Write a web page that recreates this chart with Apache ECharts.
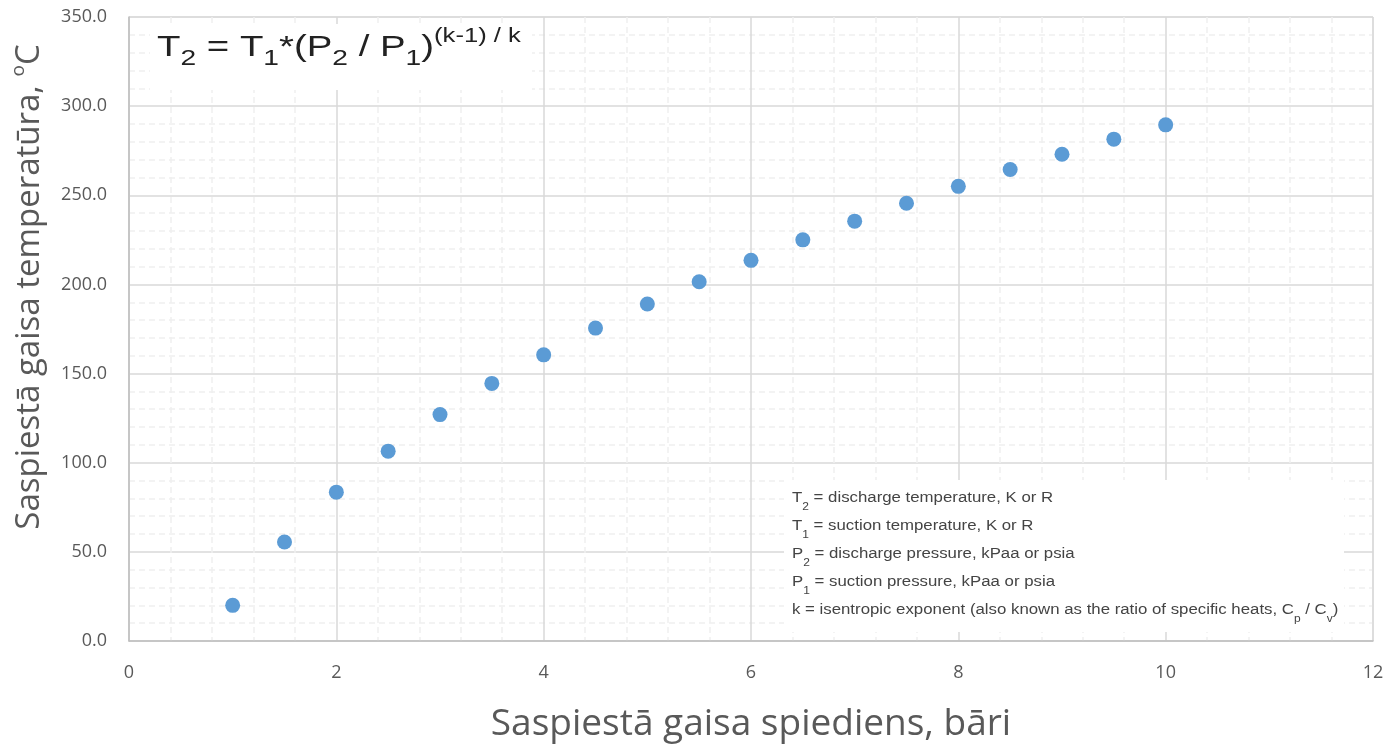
<!DOCTYPE html>
<html><head><meta charset="utf-8">
<script src="https://cdn.jsdelivr.net/npm/echarts@6/dist/echarts.min.js"></script>
<style>html,body{margin:0;padding:0;background:#fff}#c{width:1384px;height:746px}</style>
</head><body><div id="c"></div>
<script>
const pressure = [1, 1.5, 2, 2.5, 3, 3.5, 4, 4.5, 5, 5.5, 6, 6.5, 7, 7.5, 8, 8.5, 9, 9.5, 10];
const temperature = [20, 55.5, 83.5, 106.5, 127, 144.5, 160.5, 175.5, 189, 201.5, 213.5, 225, 235.5, 245.5, 255, 264.5, 273, 281.5, 289.5];
const xTitle = 'Saspiestā gaisa spiediens, bāri';
const yTitle = '{a|Saspiestā gaisa temperatūra, }{s|o}{a|C}';

const chart = echarts.init(document.getElementById('c'));
const tickFont = 'Open Sans';
const gridColor = '#d9d9d9';
chart.setOption({
  animation: false,
  grid: {left: 129, right: 11, top: 17, bottom: 105, show: true, borderColor: gridColor, borderWidth: 1,
    containLabel: false, outerBoundsMode: 'none'},
  xAxis: {
    type: 'value', min: 0, max: 12, interval: 2,
    name: xTitle, nameLocation: 'middle', nameGap: 65,
    nameTextStyle: {fontFamily: tickFont, fontSize: 37, color: '#595959'},
    axisLine: {show: true, lineStyle: {color: '#bfbfbf', width: 1.5}},
    axisTick: {show: false},
    axisLabel: {fontFamily: tickFont, fontSize: 18, color: '#595959', margin: 23},
    splitLine: {show: true, lineStyle: {color: gridColor, width: 1.5}},
    minorTick: {show: false, splitNumber: 5},
    minorSplitLine: {show: true, lineStyle: {color: '#efefef', type: [6, 4], width: 1.5}}
  },
  yAxis: {
    type: 'value', min: 0, max: 350, interval: 50,
    axisLine: {show: true, lineStyle: {color: '#bfbfbf', width: 1.5}},
    axisTick: {show: false},
    axisLabel: {fontFamily: tickFont, fontSize: 18, color: '#595959', margin: 22,
      formatter: v => v.toFixed(1)},
    splitLine: {show: true, lineStyle: {color: gridColor, width: 1.5}},
    minorTick: {show: false, splitNumber: 5},
    minorSplitLine: {show: true, lineStyle: {color: '#efefef', type: [6, 4], width: 1.5}}
  },
  series: [{
    type: 'scatter', symbol: 'circle', symbolSize: 15,
    itemStyle: {color: '#5b9bd5', opacity: 1},
    data: pressure.map((p, i) => [p, temperature[i]])
  }],
  graphic: [
    {type: 'text', x: 30, y: 287, rotation: Math.PI / 2, z: 101, style: {
      text: yTitle, align: 'center', verticalAlign: 'middle',
      rich: {
        a: {fontFamily: tickFont, fontSize: 33, fill: '#595959', lineHeight: 42, verticalAlign: 'middle'},
        s: {fontFamily: tickFont, fontSize: 19, fill: '#595959', lineHeight: 34, verticalAlign: 'top'}
      }
    }},
    {type: 'rect', shape: {x: 150, y: 24, width: 382, height: 66}, style: {fill: '#fff'}, z: 100},
    {type: 'text', x: 157, y: 26, scaleX: 1.28, z: 101, style: {
      text: '{m|T}{sb|2}{m| = T}{sb|1}{m|*(P}{sb|2}{m| / P}{sb|1}{m|)}{sp|(k-1) / k}',
      rich: {
        m: {fontFamily: 'Liberation Sans', fontSize: 30, fill: '#222', lineHeight: 44, verticalAlign: 'middle'},
        sb: {fontFamily: 'Liberation Sans', fontSize: 22, fill: '#222', lineHeight: 20, verticalAlign: 'bottom'},
        sp: {fontFamily: 'Liberation Sans', fontSize: 20, fill: '#222', lineHeight: 24, verticalAlign: 'top'}
      }
    }},
    {type: 'rect', shape: {x: 784, y: 480, width: 560, height: 152}, style: {fill: '#fff'}, z: 100},
    {type: 'text', x: 792, y: 484, scaleX: 1.2, z: 101, style: {
      text: '{m|T}{s|2}{m| = discharge temperature, K or R}\n' +
            '{m|T}{s|1}{m| = suction temperature, K or R}\n' +
            '{m|P}{s|2}{m| = discharge pressure, kPaa or psia}\n' +
            '{m|P}{s|1}{m| = suction pressure, kPaa or psia}\n' +
            '{m|k = isentropic exponent (also known as the ratio of specific heats, C}{s|p}{m| / C}{s|v}{m|)}',
      rich: {
        m: {fontFamily: 'Liberation Sans', fontSize: 14, fill: '#444', lineHeight: 28, verticalAlign: 'middle'},
        s: {fontFamily: 'Liberation Sans', fontSize: 10, fill: '#444', lineHeight: 18, verticalAlign: 'bottom'}
      }
    }}
  ]
});
</script></body></html>
